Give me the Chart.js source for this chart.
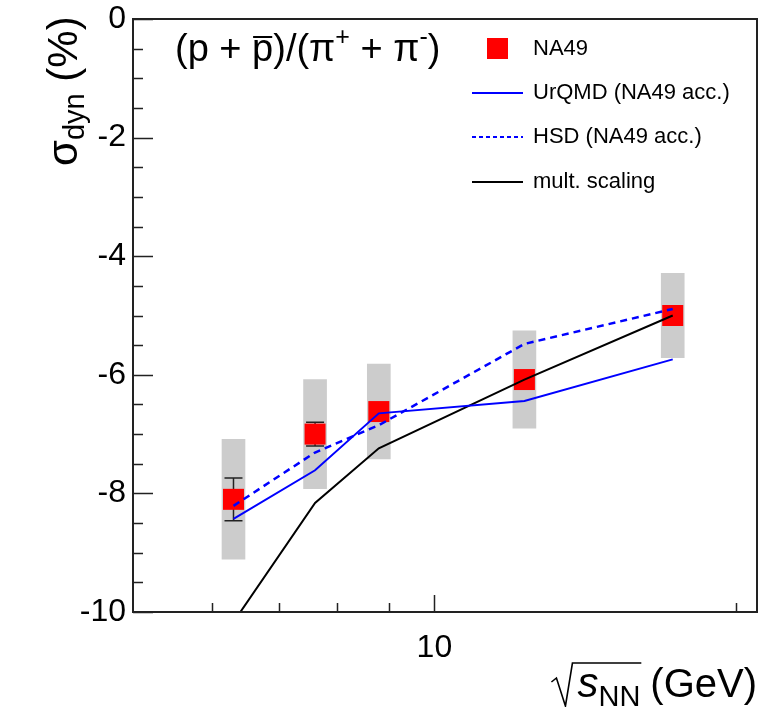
<!DOCTYPE html>
<html>
<head>
<meta charset="utf-8">
<script src="https://cdn.jsdelivr.net/npm/chart.js@4.4.1/dist/chart.umd.min.js"></script>
<style>
  html, body { margin: 0; padding: 0; background: #fff; }
  canvas { display: block; }
</style>
</head>
<body>
<canvas id="chart" width="759" height="707"></canvas>
<script>
// sqrt(s_NN) in GeV
const energies = [6.3, 7.6, 8.8, 12.3, 17.3];
// sigma_dyn (%)
const na49 = [-8.10, -7.00, -6.62, -6.08, -5.00];
const na49Stat = [0.36, 0.20, 0.12, 0.12, 0.12];
const na49Sys = [1.01, 0.92, 0.80, 0.82, 0.71];
const urqmd = [-8.43, -7.61, -6.65, -6.44, -5.74];
const hsd = [-8.21, -7.31, -6.85, -5.48, -4.89];
const multScaling = [-10.17, -8.16, -7.24, -6.08, -5.00];

const xLabelTicks = [10];
const xMinorTicks = [6, 7, 8, 9, 20];
const yMajorStep = 2;
const yMinorStep = 0.5;

const FONT = '"Liberation Sans", Arial, Helvetica, sans-serif';

const toPoints = (vals) => energies.map((x, i) => ({ x, y: vals[i] }));

// draw a run of text pieces, returns x at the end
function drawRuns(ctx, x, base, runs) {
  for (const r of runs) {
    ctx.font = `${r.italic ? 'italic ' : ''}${r.size}px ${FONT}`;
    const w = ctx.measureText(r.t).width;
    ctx.fillText(r.t, x, base + (r.dy || 0));
    if (r.overline) {
      ctx.save();
      ctx.lineWidth = 2;
      ctx.beginPath();
      ctx.moveTo(x + 1, r.overline);
      ctx.lineTo(x + w - 1, r.overline);
      ctx.stroke();
      ctx.restore();
    }
    x += w;
  }
  return x;
}

const decorPlugin = {
  id: 'decor',
  afterDatasetDraw(chart, args) {
    if (args.index !== 0) return;
    // statistical error bars: over the grey boxes, under the red squares
    const { ctx, scales: { x, y } } = chart;
    ctx.save();
    ctx.strokeStyle = '#222';
    ctx.lineWidth = 1.5;
    energies.forEach((e, i) => {
      const px = x.getPixelForValue(e);
      const top = y.getPixelForValue(na49[i] + na49Stat[i]);
      const bot = y.getPixelForValue(na49[i] - na49Stat[i]);
      ctx.beginPath();
      ctx.moveTo(px, top); ctx.lineTo(px, bot);
      ctx.moveTo(px - 9, top); ctx.lineTo(px + 9, top);
      ctx.moveTo(px - 9, bot); ctx.lineTo(px + 9, bot);
      ctx.stroke();
    });
    ctx.restore();
  },
  afterDraw(chart) {
    const { ctx, chartArea: a, scales: { x, y } } = chart;
    ctx.save();

    // frame
    ctx.strokeStyle = '#222';
    ctx.lineWidth = 2;
    ctx.strokeRect(a.left, a.top, a.right - a.left, a.bottom - a.top);

    // inward ticks
    ctx.lineWidth = 1.5;
    ctx.beginPath();
    for (let v = y.min; v <= y.max + 1e-6; v += yMinorStep) {
      const py = Math.round(y.getPixelForValue(v)) + 0.5;
      const major = Math.abs(v / yMajorStep - Math.round(v / yMajorStep)) < 1e-6;
      ctx.moveTo(a.left, py);
      ctx.lineTo(a.left + (major ? 20 : 10), py);
    }
    xMinorTicks.forEach(v => {
      const px = Math.round(x.getPixelForValue(v)) + 0.5;
      ctx.moveTo(px, a.bottom); ctx.lineTo(px, a.bottom - 9);
    });
    xLabelTicks.forEach(v => {
      const px = Math.round(x.getPixelForValue(v)) + 0.5;
      ctx.moveTo(px, a.bottom); ctx.lineTo(px, a.bottom - 17);
    });
    ctx.stroke();

    ctx.fillStyle = '#000';
    ctx.strokeStyle = '#000';
    ctx.textBaseline = 'alphabetic';
    ctx.textAlign = 'left';

    // title
    drawRuns(ctx, 175, 61, [
      { t: '(p + ', size: 38 },
      { t: 'p', size: 38, overline: 37 },
      { t: ')/(\u03c0', size: 38 },
      { t: '+', size: 25, dy: -16 },
      { t: ' + \u03c0', size: 38 },
      { t: '-', size: 25, dy: -16 },
      { t: ')', size: 38 }
    ]);

    // y axis title
    ctx.save();
    ctx.translate(77, 166);
    ctx.rotate(-Math.PI / 2);
    drawRuns(ctx, 0, 0, [
      { t: '\u03c3', size: 42 },
      { t: 'dyn', size: 29, dy: 7 },
      { t: ' (%)', size: 42 }
    ]);
    ctx.restore();

    // x axis title: sqrt(s_NN) (GeV)
    const base = 697;
    ctx.font = `40px ${FONT}`;
    const wG = ctx.measureText('(GeV)').width;
    ctx.font = `29px ${FONT}`;
    const wN = ctx.measureText('NN').width;
    ctx.font = `italic 42px ${FONT}`;
    const wS = ctx.measureText('s').width;
    const xg = 757 - wG;
    const xn = xg - 10 - wN;
    const xs = xn - wS;
    drawRuns(ctx, xs, base, [{ t: 's', size: 42, italic: true }]);
    drawRuns(ctx, xn, base, [{ t: 'NN', size: 29, dy: 9 }]);
    drawRuns(ctx, xg, base, [{ t: '(GeV)', size: 40 }]);
    ctx.lineWidth = 1.6;
    ctx.beginPath();
    ctx.moveTo(xs - 26, 682);
    ctx.lineTo(xs - 21, 678);
    ctx.lineTo(xs - 12, 706);
    ctx.lineTo(xs - 5, 663);
    ctx.lineTo(xn + wN + 1, 663);
    ctx.stroke();

    // legend
    const lx0 = 472, lx1 = 523, tx = 533;
    ctx.font = `22px ${FONT}`;
    ctx.textBaseline = 'middle';
    ctx.fillStyle = '#ff0000';
    ctx.fillRect(487, 38, 21, 21);
    ctx.fillStyle = '#000';
    ctx.fillText('NA49', tx, 49);
    const rows = [
      { label: 'UrQMD (NA49 acc.)', color: '#0000ff', dash: [], y: 93 },
      { label: 'HSD (NA49 acc.)', color: '#0000ff', dash: [4, 3], y: 137 },
      { label: 'mult. scaling', color: '#000', dash: [], y: 182 }
    ];
    rows.forEach(r => {
      ctx.strokeStyle = r.color;
      ctx.lineWidth = 2;
      ctx.setLineDash(r.dash);
      ctx.beginPath();
      ctx.moveTo(lx0, r.y); ctx.lineTo(lx1, r.y);
      ctx.stroke();
      ctx.setLineDash([]);
      ctx.fillText(r.label, tx, r.y);
    });

    ctx.restore();
  }
};

new Chart(document.getElementById('chart').getContext('2d'), {
  type: 'line',
  data: {
    datasets: [
      {
        type: 'bar',
        label: 'sys',
        data: energies.map((x, i) => ({ x, y: [na49[i] - na49Sys[i], na49[i] + na49Sys[i]] })),
        backgroundColor: '#cccccc',
        borderWidth: 0,
        barThickness: 23,
        order: 10,
      },
      {
        label: 'NA49',
        data: toPoints(na49),
        showLine: false,
        pointStyle: 'rect',
        pointRadius: 14.85,
        pointBackgroundColor: '#ff0000',
        pointBorderWidth: 0,
        order: 5,
      },
      {
        label: 'mult. scaling',
        data: toPoints(multScaling),
        borderColor: '#000000',
        borderWidth: 2,
        pointRadius: 0,
        tension: 0,
        fill: false,
        order: 3,
      },
      {
        label: 'HSD (NA49 acc.)',
        data: toPoints(hsd),
        borderColor: '#0000ff',
        borderWidth: 2.5,
        borderDash: [7, 5],
        pointRadius: 0,
        tension: 0,
        fill: false,
        order: 2,
      },
      {
        label: 'UrQMD (NA49 acc.)',
        data: toPoints(urqmd),
        borderColor: '#0000ff',
        borderWidth: 2,
        pointRadius: 0,
        tension: 0,
        fill: false,
        order: 1,
      },
    ],
  },
  options: {
    responsive: false,
    devicePixelRatio: 1,
    animation: false,
    events: [],
    layout: { autoPadding: false, padding: { top: 19, right: 2, left: 0, bottom: 0 } },
    scales: {
      x: {
        type: 'logarithmic',
        min: 5,
        max: 21,
        offset: false,
        grid: { display: false, drawTicks: false },
        border: { display: false },
        afterBuildTicks: (s) => { s.ticks = xLabelTicks.map(v => ({ value: v })); },
        afterFit: (s) => {
          s.height = 95;
          s.paddingLeft = 0;
          s.paddingRight = 0;
        },
        ticks: {
          callback: (v) => String(v),
          font: { family: FONT, size: 32 },
          color: '#000',
          padding: 17,
          maxRotation: 0,
          autoSkip: false,
        },
      },
      y: {
        type: 'linear',
        min: -10,
        max: 0,
        grid: { display: false, drawTicks: false },
        border: { display: false },
        afterFit: (s) => {
          s.width = 133;
          s.paddingTop = 0;
          s.paddingBottom = 0;
        },
        ticks: {
          stepSize: 2,
          callback: (v) => String(v),
          font: { family: FONT, size: 32 },
          color: '#000',
          padding: 7,
        },
      },
    },
    plugins: {
      legend: { display: false },
      tooltip: { enabled: false },
    },
  },
  plugins: [decorPlugin],
});
</script>
</body>
</html>
